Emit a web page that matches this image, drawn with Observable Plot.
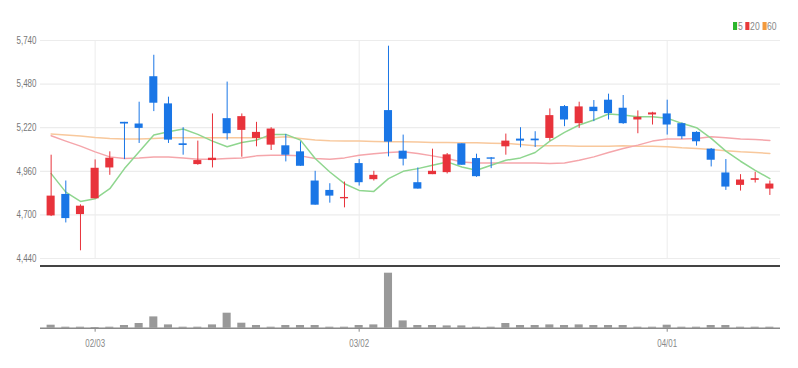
<!DOCTYPE html>
<html><head><meta charset="utf-8">
<script src="https://cdn.jsdelivr.net/npm/d3@7"></script>
<script src="https://cdn.jsdelivr.net/npm/@observablehq/plot@0.6"></script>
<style>
body{margin:0;background:#fff;font-family:"Liberation Sans Narrow","Liberation Sans",sans-serif;}
#wrap{position:relative;width:798px;height:368px;overflow:hidden;background:#fff}
#legend{position:absolute;top:20px;left:733px;font-size:10.5px;color:#888;display:flex;align-items:center;line-height:12px;transform:scaleX(0.82);transform-origin:left center}
#legend .it{display:flex;align-items:center;margin-right:3px}
#legend .sw{display:inline-block;width:5px;height:8px;margin-right:1px}
#price{position:absolute;left:0;top:0}
#sep{position:absolute;left:40px;top:264.5px;width:740px;height:2px;background:#444}
#vol{position:absolute;left:0;top:268px}
</style></head><body>
<div id="wrap"><div id="price"></div><div id="sep"></div><div id="vol"></div><div id="legend"></div></div>
<script>
const dates = ["2022-01-26","2022-01-27","2022-01-28",
 "2022-02-03","2022-02-04","2022-02-07","2022-02-08","2022-02-09","2022-02-10","2022-02-11",
 "2022-02-14","2022-02-15","2022-02-16","2022-02-17","2022-02-18","2022-02-21","2022-02-22",
 "2022-02-23","2022-02-24","2022-02-25","2022-02-28",
 "2022-03-02","2022-03-03","2022-03-04","2022-03-07","2022-03-08","2022-03-10","2022-03-11",
 "2022-03-14","2022-03-15","2022-03-16","2022-03-17","2022-03-18","2022-03-21","2022-03-22",
 "2022-03-23","2022-03-24","2022-03-25","2022-03-28","2022-03-29","2022-03-30","2022-03-31",
 "2022-04-01","2022-04-04","2022-04-05","2022-04-06","2022-04-07","2022-04-08","2022-04-11","2022-04-12"];
const open  = [4694,4822,4702,4796,4980,5252,5242,5524,5362,5124,5000,5024,5274,5204,5156,5116,5112,5076,4902,4846,4796,5006,4910,5322,5080,4892,4940,4952,5124,5036,5040,5106,5152,5152,5156,5346,5244,5342,5384,5336,5266,5296,5302,5244,5192,5092,4950,4876,4906,4854];
const high  = [5056,4902,4760,5028,5076,5252,5372,5652,5402,5220,5140,5302,5492,5302,5252,5220,5180,5136,4960,4886,4896,5030,4960,5706,5176,4980,5092,5066,5124,5062,5042,5182,5220,5196,5332,5352,5372,5382,5420,5412,5320,5312,5384,5248,5196,5096,5030,4940,4954,4902];
const low   = [4690,4652,4486,4796,4936,5030,5126,5316,5126,5056,4996,4980,5146,5044,5106,5084,5016,4990,4758,4770,4742,4872,4902,5046,4992,4854,4940,4944,4996,4924,4976,5056,5100,5102,5140,5226,5216,5256,5266,5240,5184,5236,5176,5150,5110,4986,4846,4842,4890,4816];
const close = [4812,4678,4752,4978,5038,5242,5216,5366,5146,5114,5024,5038,5184,5286,5192,5212,5056,4990,4758,4812,4804,4892,4936,5134,5032,4854,4960,5058,4996,4928,5032,5140,5140,5142,5292,5266,5344,5316,5304,5244,5282,5308,5236,5166,5136,5026,4866,4908,4916,4884];
const volume = [30000,10000,10000,7000,10000,27000,47000,113000,33000,10000,10000,33000,150000,50000,27000,10000,27000,27000,27000,10000,10000,27000,33000,550000,73000,27000,27000,23000,23000,10000,10000,47000,27000,27000,33000,27000,33000,27000,27000,27000,10000,10000,30000,10000,10000,27000,27000,10000,10000,10000];
const ma5  = [4946,4836,4780,4796,4856,4976,5076,5176,5196,5212,5180,5140,5106,5132,5146,5180,5180,5146,5036,4956,4886,4846,4840,4916,4960,4976,4996,5016,4986,4966,4996,5026,5040,5072,5140,5192,5236,5266,5302,5296,5286,5286,5276,5246,5220,5156,5080,5020,4966,4916];
const ma20 = [5172,5140,5110,5076,5046,5036,5040,5046,5046,5040,5032,5032,5036,5040,5052,5056,5056,5052,5036,5032,5040,5056,5064,5072,5076,5066,5052,5036,5016,5010,5010,5010,5010,5010,5006,5010,5026,5046,5072,5096,5116,5140,5152,5152,5156,5166,5160,5152,5150,5144];
const ma60 = [5182,5176,5170,5162,5156,5152,5152,5156,5160,5160,5160,5160,5160,5160,5160,5160,5166,5156,5146,5142,5140,5140,5138,5136,5136,5134,5132,5132,5130,5130,5128,5126,5120,5112,5112,5112,5110,5110,5110,5112,5110,5110,5106,5100,5096,5090,5082,5076,5072,5066];
const yTicks = [4440,4700,4960,5220,5480,5740];
const xTicks = ["2022-02-03","2022-03-02","2022-04-01"];
const legendLabels = ["5","20","60"];
const legendColors = ["#2bb52b","#e83a3a","#f39a3c"];
const maColors = {ma5:"#8fd68f", ma20:"#f5a6ab", ma60:"#f8c89c"};
const upColor = "#e8333b", downColor = "#1a76e6";

const rows = dates.map((d,i)=>({date:d, open:open[i], high:high[i], low:low[i], close:close[i], volume:volume[i], ma5:ma5[i], ma20:ma20[i], ma60:ma60[i]}));
const fmtDate = d => d.slice(5,7)+"/"+d.slice(8,10);
const font = '"Liberation Sans Narrow","Liberation Sans",sans-serif';

function condense(svg, sx) {
  svg.querySelectorAll('g[aria-label$="tick label"] text').forEach(t => {
    const tr = t.getAttribute("transform") || "";
    t.setAttribute("transform", tr + ` scale(${sx},1)`);
  });
}

const price = Plot.plot({
  width:798, height:266, marginLeft:40, marginRight:18, marginTop:40, marginBottom:8,
  style:{fontFamily:font, fontSize:"10px", color:"#777", background:"transparent"},
  x:{type:"band", domain:dates, padding:0.45, axis:null},
  y:{domain:[4440,5740], ticks:yTicks, tickFormat:d3.format(","), tickSize:0, tickPadding:4, label:null},
  color:{type:"identity"},
  marks:[
    Plot.gridY(yTicks,{stroke:"#ececec", strokeOpacity:1, strokeWidth:1.2}),
    Plot.gridX(xTicks,{stroke:"#ececec", strokeOpacity:1}),
    Plot.line(rows,{x:"date", y:"ma60", stroke:maColors.ma60, strokeWidth:1.5}),
    Plot.line(rows,{x:"date", y:"ma20", stroke:maColors.ma20, strokeWidth:1.5}),
    Plot.line(rows,{x:"date", y:"ma5", stroke:maColors.ma5, strokeWidth:1.5}),
    Plot.ruleX(rows,{x:"date", y1:"low", y2:"high", stroke:d=>d.close>=d.open?upColor:downColor, strokeWidth:1}),
    Plot.barY(rows,{x:"date", y1:"open", y2:"close", fill:d=>d.close>=d.open?upColor:downColor})
  ]
});
condense(price, 0.8);
document.getElementById("price").appendChild(price);

const vol = Plot.plot({
  width:798, height:100, marginLeft:40, marginRight:18, marginTop:2, marginBottom:40.3,
  style:{fontFamily:font, fontSize:"11px", color:"#888", background:"transparent"},
  x:{type:"band", domain:dates, padding:0.45, ticks:xTicks, tickFormat:fmtDate, tickSize:4, tickPadding:7, label:null},
  y:{domain:[0,577000], axis:null},
  marks:[
    Plot.barY(rows,{x:"date", y:"volume", fill:"#999"}),
    Plot.ruleY([0],{stroke:"#8a8a8a", strokeWidth:1.5})
  ]
});
condense(vol, 0.72);
document.getElementById("vol").appendChild(vol);

const lg = document.getElementById("legend");
legendLabels.forEach((t,i)=>{
  const it = document.createElement("span"); it.className="it";
  const sw = document.createElement("span"); sw.className="sw"; sw.style.background=legendColors[i];
  it.appendChild(sw); it.appendChild(document.createTextNode(t)); lg.appendChild(it);
});
</script>
</body></html>
